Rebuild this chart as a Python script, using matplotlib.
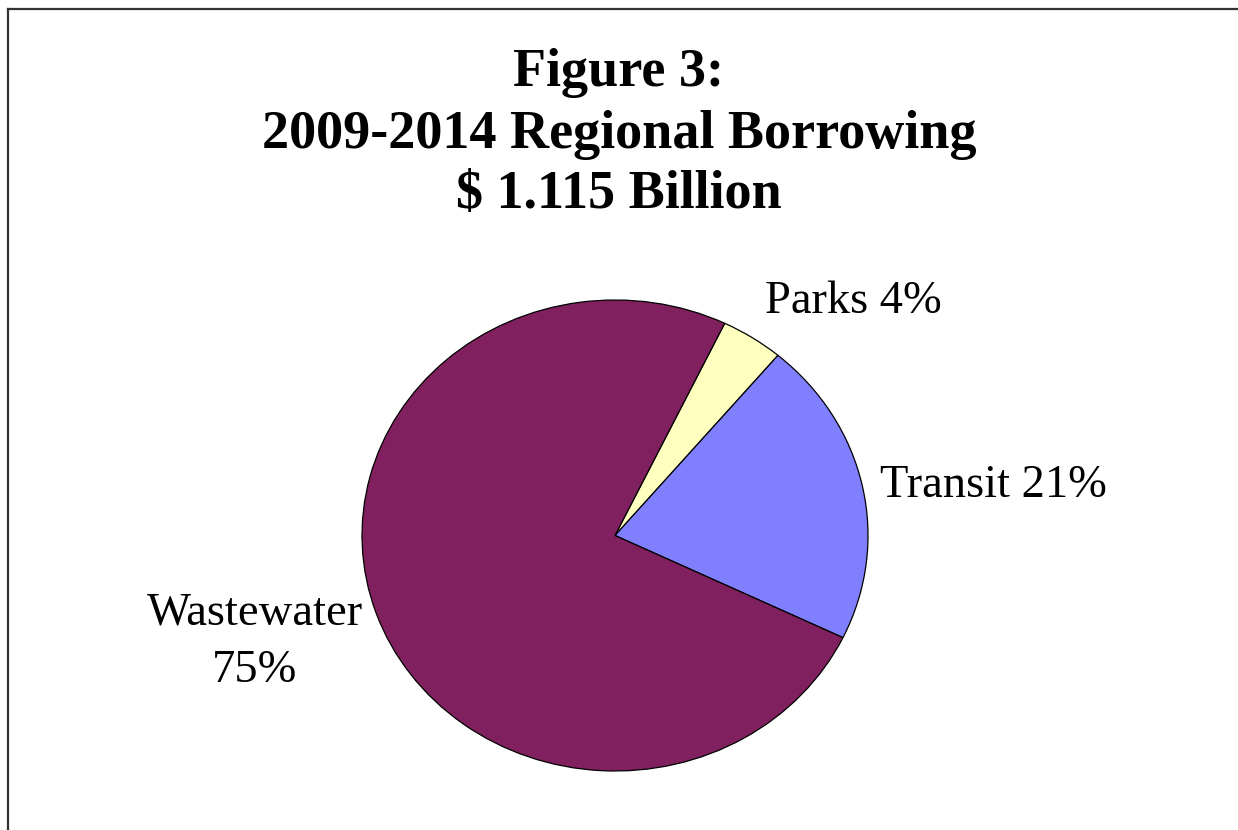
import matplotlib
matplotlib.use("Agg")
import matplotlib.pyplot as plt
from matplotlib.lines import Line2D

# share of 2009-2014 regional borrowing, percent
categories = ['Parks', 'Transit', 'Wastewater']
shares = [4, 21, 75]
colors = ['#FFFFC0', '#8080FF', '#80205F']

plt.rcParams['font.family'] = ['Liberation Serif', 'DejaVu Serif']

fig = plt.figure(figsize=(12.38, 8.3), dpi=100)

# frame around the chart area (runs off the right and bottom edges)
fig.add_artist(Line2D([8 / 1238, 8 / 1238], [0, 1 - 9 / 830], transform=fig.transFigure,
                      color='#333333', lw=1.6))
fig.add_artist(Line2D([8 / 1238, 1], [1 - 9 / 830, 1 - 9 / 830], transform=fig.transFigure,
                      color='#333333', lw=1.6))

fig.text(0.5, 1 - 73 / 830, 'Figure 3:', ha='center', va='center',
         fontsize=39, fontweight='bold')
fig.text(0.5, 1 - 135 / 830, '2009-2014 Regional Borrowing', ha='center', va='center',
         fontsize=39, fontweight='bold')
fig.text(0.5, 1 - 195 / 830, '$ 1.115 Billion', ha='center', va='center',
         fontsize=39, fontweight='bold')

ax = fig.add_axes([362 / 1238, 1 - 771 / 830, 506 / 1238, 471 / 830])
ax.pie(shares, colors=colors, startangle=64.3, counterclock=False, radius=1,
       wedgeprops=dict(edgecolor='black', linewidth=0.9))
ax.set_aspect('auto')
ax.set_xlim(-1, 1)
ax.set_ylim(-1, 1)
ax.axis('off')

fig.text(853 / 1238, 1 - 302 / 830, f'{categories[0]} {shares[0]}%', ha='center', va='center',
         fontsize=33.5)
fig.text(993 / 1238, 1 - 486 / 830, f'{categories[1]} {shares[1]}%', ha='center', va='center',
         fontsize=33.5)
fig.text(255 / 1238, 1 - 642 / 830, f'{categories[2]}\n{shares[2]}%', ha='center', va='center',
         fontsize=33.5, linespacing=1.45)

fig.savefig('out.png', dpi=100, facecolor='white')
